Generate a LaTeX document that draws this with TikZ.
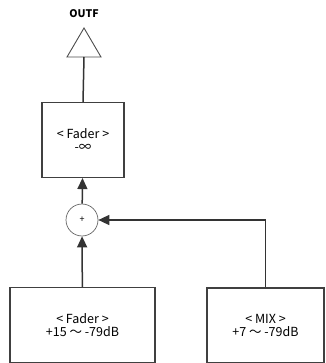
\documentclass[tikz,border=0pt]{standalone}
\usepackage{fontspec}
\setmainfont{Noto Sans CJK JP}
\usetikzlibrary{positioning, arrows.meta, calc}

\begin{document}
\begin{tikzpicture}[x=1pt, y=-1pt]
\tikzset{
    every node/.style={align=center, font=\fontsize{12.5}{13.5}\selectfont},
    block/.style={draw=black!75, line width=1.1pt, inner sep=0pt},
    sumnode/.style={circle, draw=black!60, line width=0.7pt, minimum size=32pt, inner sep=0pt},
    wire/.style={line width=1.5pt, black!80},
    arrow/.style={wire, -{Triangle[length=11pt, width=10pt]}}
}
\useasboundingbox (0,0) rectangle (325,363);

% output
\node[font=\fontsize{10.5}{12}\selectfont\bfseries] (outf) at (84,14) {OUTF};
\coordinate (amp) at (84,57);
\draw[black!70, line width=0.9pt] (amp) ++(-17,0) -- ++(17,-29) -- ++(17,29) -- cycle;

% blocks
\node[block, minimum width=82pt, minimum height=75pt] (fader) at (83,140) {< Fader >\\-∞};
\node[sumnode] (sum) at (82,220) {\fontsize{9}{10}\selectfont +};
\node[block, minimum width=145pt, minimum height=75pt] (infader) at (82.5,325) {< Fader >\\+15 ～ -79dB};
\node[block, minimum width=117pt, minimum height=75pt] (mix) at (265.5,325.5) {< MIX >\\+7 ～ -79dB};
\coordinate (corner) at (mix.north |- sum);

% connections
\draw[wire] (fader.north) -- (amp);
\draw[arrow] (sum) -- (fader);
\draw[arrow] (infader) -- (sum);
\draw[wire] (mix.north) -- (corner);
\draw[arrow] (corner) -- (sum);
\end{tikzpicture}
\end{document}
